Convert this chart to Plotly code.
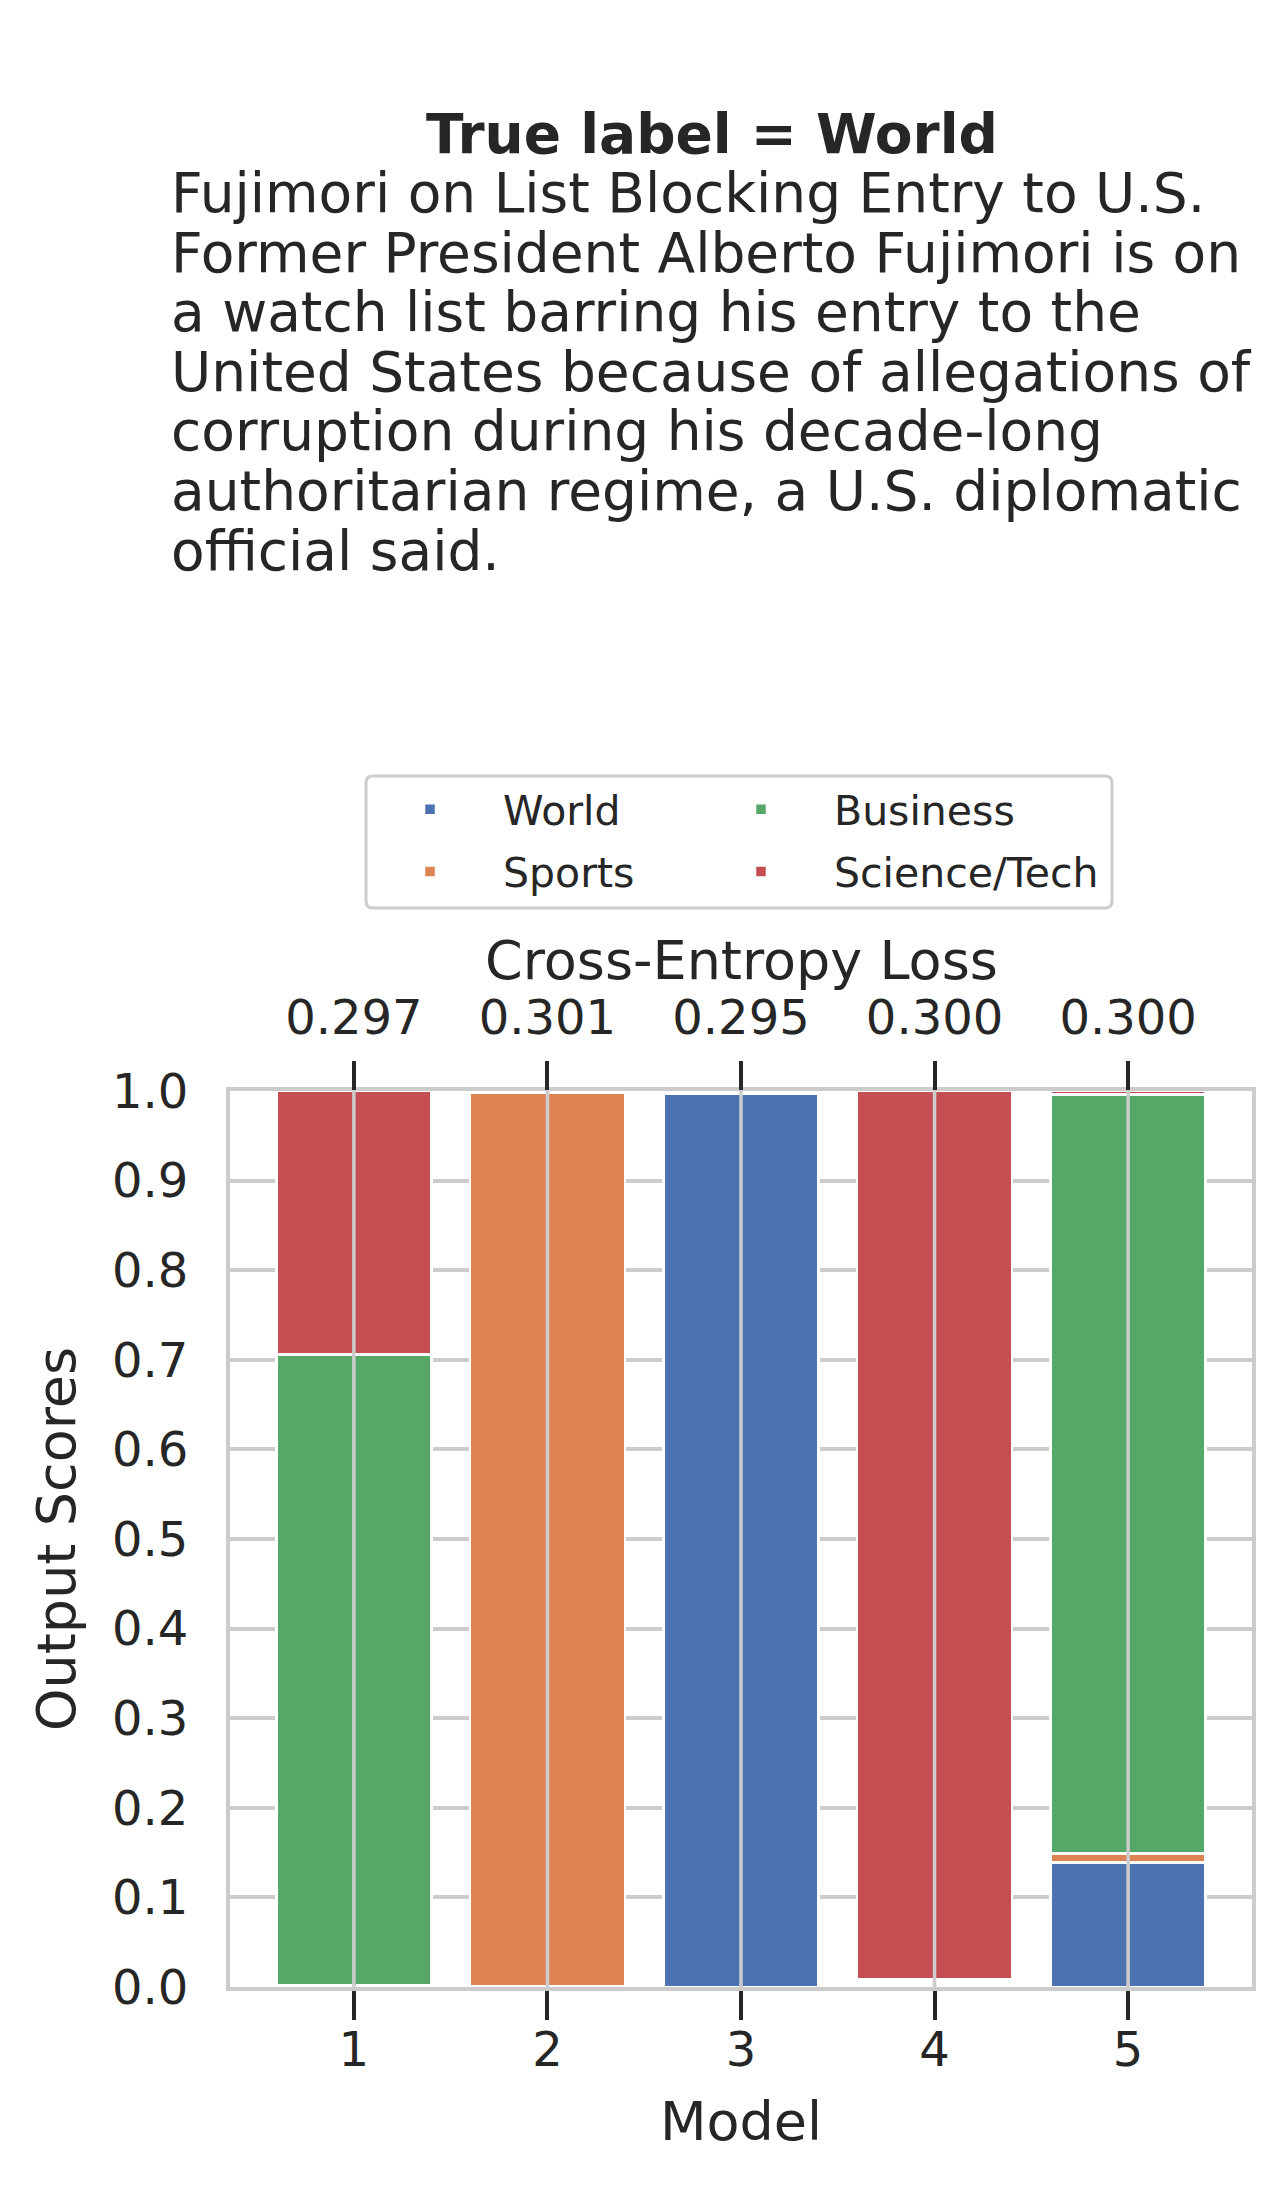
import plotly.graph_objects as go

# model index and the loss shown on the top axis
models = [1, 2, 3, 4, 5]
loss_labels = ["0.297", "0.301", "0.295", "0.300", "0.300"]

classes = ["World", "Sports", "Business", "Science/Tech"]
colors = ["#4C72B0", "#DD8452", "#55A868", "#C44E52"]
legend_cols = ["legend", "legend", "legend2", "legend2"]

# output scores per class (stacked bottom -> top)
world = [0.001, 0.001, 0.997, 0.003, 0.139]
sports = [0.001, 0.997, 0.001, 0.003, 0.010]
business = [0.704, 0.001, 0.001, 0.003, 0.847]
scitech = [0.294, 0.001, 0.001, 0.991, 0.004]
scores = [world, sports, business, scitech]

true_label = "World"
text_lines = [
    "Fujimori on List Blocking Entry to U.S.",
    "Former President Alberto Fujimori is on",
    "a watch list barring his entry to the",
    "United States because of allegations of",
    "corruption during his decade-long",
    "authoritarian regime, a U.S. diplomatic",
    "official said.",
]

W, H = 1287, 2186
OFF = 8  # page body margin
L, R, T, B = 222, 43, 1083, 207
ph = H - T - B
pw = W - L - R
ink = "#262626"
grey = "#cccccc"
font = "DejaVu Sans"


def py(ypage):
    return (H - B - (ypage - OFF)) / ph


def px(xpage):
    return (xpage - OFF - L) / pw


fig = go.Figure()
for name, vals, col, lg in zip(classes, scores, colors, legend_cols):
    fig.add_trace(go.Bar(x=models, y=vals, name=name, marker_color=col,
                         marker_line_color="white", marker_line_width=2.5,
                         width=0.8, legend=lg, legendgroup=name))

# vertical grid of the twin axis sits on top of the bars
for m in models:
    fig.add_vline(x=m, line_color=grey, line_width=3.5, layer="above")

fig.add_annotation(text="<b>True label = %s</b>" % true_label, x=px(712), y=py(134),
                   xref="paper", yref="paper", showarrow=False,
                   xanchor="center", yanchor="middle",
                   font=dict(size=55, color=ink, family=font))
for i, line in enumerate(text_lines):
    fig.add_annotation(text=line, x=px(169), y=py(193 + 59.6 * i),
                       xref="paper", yref="paper", showarrow=False,
                       xanchor="left", yanchor="middle",
                       font=dict(size=55, color=ink, family=font))

# top axis title
fig.add_annotation(text="Cross-Entropy Loss", x=0.5, y=py(961),
                   xref="paper", yref="paper", showarrow=False,
                   xanchor="center", yanchor="middle",
                   font=dict(size=54, color=ink, family=font))

# frame around the two legend columns (rounded corners)
x0, x1 = px(366), px(1112)
y0, y1 = py(908), py(776)
rx, ry = 7 / pw, 7 / ph
frame = ("M {a},{y0} L {b},{y0} Q {x1},{y0} {x1},{c} L {x1},{d} Q {x1},{y1} {b},{y1} "
         "L {a},{y1} Q {x0},{y1} {x0},{d} L {x0},{c} Q {x0},{y0} {a},{y0} Z").format(
    a=x0 + rx, b=x1 - rx, c=y0 + ry, d=y1 - ry, x0=x0, x1=x1, y0=y0, y1=y1)
fig.add_shape(type="path", path=frame, xref="paper", yref="paper",
              line=dict(color=grey, width=3), fillcolor="rgba(0,0,0,0)")

leg = dict(xanchor="left", y=py(776), yanchor="top", traceorder="grouped",
           tracegroupgap=6, borderwidth=0, bgcolor="rgba(0,0,0,0)",
           font=dict(size=41), itemwidth=136)

fig.update_layout(
    width=W, height=H,
    margin=dict(l=L, r=R, t=T, b=B),
    barmode="stack",
    bargap=0.2,
    plot_bgcolor="white", paper_bgcolor="white",
    font=dict(family=font, color=ink, size=48),
    legend=dict(leg, x=px(357)),
    legend2=dict(leg, x=px(688)),
    xaxis=dict(range=[0.36, 5.64], tickvals=models, ticks="outside", ticklen=29,
               tickwidth=4, tickcolor=ink, showgrid=False, zeroline=False,
               showline=True, linecolor=grey, linewidth=4, mirror=True,
               tickfont=dict(size=48), ticklabelstandoff=-12,
               title=dict(text="Model", font=dict(size=54), standoff=28)),
    xaxis2=dict(overlaying="x", side="top", range=[0.36, 5.64], tickvals=models,
                ticktext=loss_labels, ticks="outside", ticklen=29, tickwidth=4,
                tickcolor=ink, showgrid=False, zeroline=False, showline=False,
                tickfont=dict(size=48), ticklabelstandoff=8),
    yaxis=dict(range=[0, 1], dtick=0.1, tickformat=".1f", showgrid=True,
               gridcolor=grey, gridwidth=3.5, zeroline=False, showline=True,
               linecolor=grey, linewidth=4, mirror=True, ticks="",
               ticklabelstandoff=28, tickfont=dict(size=48),
               title=dict(text="Output Scores", font=dict(size=54), standoff=20)),
)
fig.add_trace(go.Scatter(x=models, y=[None] * len(models), xaxis="x2",
                         showlegend=False, hoverinfo="skip"))

fig.write_html("out.html")
